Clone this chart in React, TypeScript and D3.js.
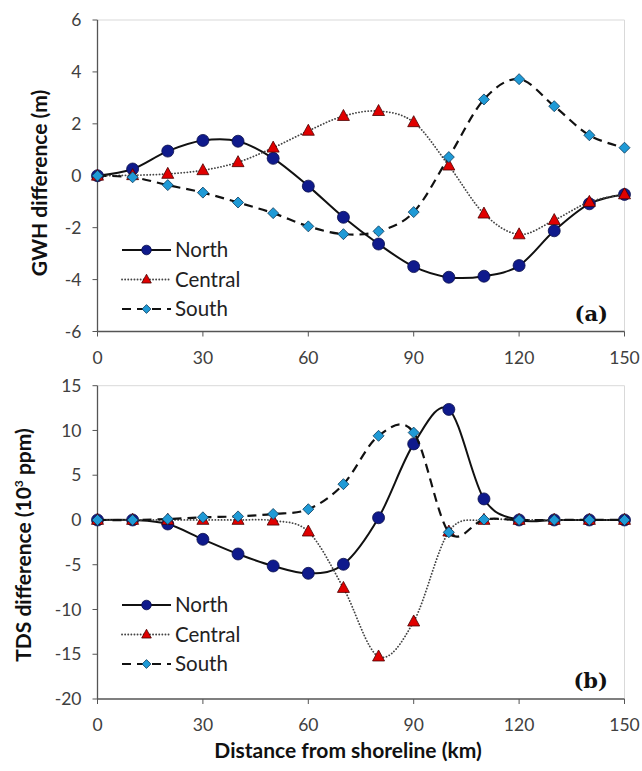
import { useMemo } from 'react';
import * as d3 from 'd3';

// distance from shoreline (km)
const distances = [0, 10, 20, 30, 40, 50, 60, 70, 80, 90, 100, 110, 120, 130, 140, 150];
const xTicks = [0, 30, 60, 90, 120, 150];

// panel (a) GWH difference (m)
const gwhNorth = [0, 0.26, 0.95, 1.36, 1.33, 0.67, -0.4, -1.6, -2.63, -3.5, -3.91, -3.87, -3.46, -2.12, -1.08, -0.72];
const gwhCentral = [0, 0.02, 0.07, 0.21, 0.52, 1.08, 1.73, 2.3, 2.49, 2.06, 0.39, -1.46, -2.26, -1.71, -1.01, -0.72];
const gwhSouth = [0, -0.06, -0.36, -0.65, -1.03, -1.44, -1.95, -2.25, -2.14, -1.4, 0.72, 2.94, 3.72, 2.68, 1.56, 1.08];
const gwhTicks = [-6, -4, -2, 0, 2, 4, 6];

// panel (b) TDS difference (10^3 ppm)
const tdsNorth = [0, 0, -0.45, -2.16, -3.8, -5.14, -5.96, -4.95, 0.25, 8.5, 12.35, 2.35, 0, 0, 0, 0];
const tdsCentral = [0, 0, 0, 0, 0, -0.08, -1.3, -7.6, -15.26, -11.35, -1.3, 0, 0, 0, 0, 0];
const tdsSouth = [0, 0, 0.1, 0.3, 0.4, 0.67, 1.2, 4.0, 9.4, 9.76, -1.37, 0.05, 0, 0, 0, 0];
const tdsTicks = [-20, -15, -10, -5, 0, 5, 10, 15];

const seriesNames = ['North', 'Central', 'South'];

const FONT = 'Lato, "Open Sans", sans-serif';

type Kind = 'North' | 'Central' | 'South';

function Marker({ kind, x, y, s = 1 }: { kind: Kind; x: number; y: number; s?: number }) {
	if (kind === 'North') {
		return <circle cx={x} cy={y} r={6 * s} fill="#0f1a8c" stroke="#0a0f4a" strokeWidth={0.8} />;
	}
	if (kind === 'Central') {
		const h = 11 * s;
		const w = 12 * s;
		return (
			<path
				d={`M${x},${y - h * 0.6}L${x + w / 2},${y + h * 0.4}L${x - w / 2},${y + h * 0.4}Z`}
				fill="#e00000"
				stroke="#4a0000"
				strokeWidth={0.8}
			/>
		);
	}
	const r = 5.5 * s;
	return (
		<path
			d={`M${x},${y - r}L${x + r},${y}L${x},${y + r}L${x - r},${y}Z`}
			fill="#1f9ad6"
			stroke="#0b3a5a"
			strokeWidth={0.8}
		/>
	);
}

const lineStyle: Record<Kind, { dash: string; width: number; color: string; cap: string }> = {
	North: { dash: '0', width: 2, color: '#111', cap: 'butt' },
	Central: { dash: '0.1,3', width: 1.8, color: '#444', cap: 'round' },
	South: { dash: '9,6', width: 2.2, color: '#111', cap: 'butt' },
};

interface PanelProps {
	top: number;
	bottom: number;
	yDomain: [number, number];
	yTicks: number[];
	series: number[][];
	yTitle: React.ReactNode;
	titleX: number;
	titleY: number;
	tag: string;
	legendY: number;
	tickLabelY: number;
}

function Panel({ top, bottom, yDomain, yTicks, series, yTitle, titleX, titleY, tag, legendY, tickLabelY }: PanelProps) {
	const left = 97.5;
	const right = 624.5;
	const x = useMemo(() => d3.scaleLinear().domain([0, 150]).range([left, right]), []);
	const y = useMemo(() => d3.scaleLinear().domain(yDomain).range([bottom, top]), [yDomain, top, bottom]);
	const line = d3
		.line<number>()
		.x((_, i) => x(distances[i]))
		.y((d) => y(d))
		.curve(d3.curveCatmullRom.alpha(0));

	return (
		<g>
			{/* plot area frame: light top/right, dark axes */}
			<line x1={left} x2={right} y1={top} y2={top} stroke="#d9d9d9" />
			<line x1={right} x2={right} y1={top} y2={bottom} stroke="#d9d9d9" />
			<line x1={left} x2={left} y1={top} y2={bottom} stroke="#555" strokeWidth={1.3} />
			<line x1={left} x2={right} y1={bottom} y2={bottom} stroke="#555" strokeWidth={1.3} />
			{yTicks.map((t) => (
				<g key={t}>
					<line x1={left - 5} x2={left} y1={y(t)} y2={y(t)} stroke="#555" />
					<text x={left - 16} y={y(t)} dy="0.35em" textAnchor="end" fontSize={17.5} fill="#404040" fontFamily={FONT}>
						{t}
					</text>
				</g>
			))}
			{xTicks.map((t) => (
				<g key={t}>
					<line x1={x(t)} x2={x(t)} y1={bottom} y2={bottom + 5} stroke="#555" />
					<text x={x(t)} y={tickLabelY} textAnchor="middle" fontSize={17.5} fill="#404040" fontFamily={FONT}>
						{t}
					</text>
				</g>
			))}
			<text
				transform={`translate(${titleX},${titleY}) rotate(-90)`}
				textAnchor="middle"
				fontSize={21}
				fontWeight="bold"
				fill="#111"
				fontFamily={FONT}
			>
				{yTitle}
			</text>
			{series.map((vals, si) => {
				const kind = seriesNames[si] as Kind;
				const st = lineStyle[kind];
				return (
					<g key={kind}>
						<path
							d={line(vals) ?? ''}
							fill="none"
							stroke={st.color}
							strokeWidth={st.width}
							strokeDasharray={st.dash}
							strokeLinecap={st.cap as 'butt' | 'round'}
						/>
						{vals.map((v, i) => (
							<Marker key={i} kind={kind} x={x(distances[i])} y={y(v)} />
						))}
					</g>
				);
			})}
			{/* legend */}
			{seriesNames.map((name, i) => {
				const kind = name as Kind;
				const st = lineStyle[kind];
				const ly = legendY + i * 29.5;
				return (
					<g key={name}>
						<line
							x1={122}
							x2={171}
							y1={ly}
							y2={ly}
							stroke={st.color}
							strokeWidth={st.width}
							strokeDasharray={st.dash}
							strokeLinecap={st.cap as 'butt' | 'round'}
						/>
						<Marker kind={kind} x={146.5} y={ly} s={0.8} />
						<text x={175} y={ly} dy="0.36em" fontSize={20.5} fill="#222" fontFamily={FONT}>
							{name}
						</text>
					</g>
				);
			})}
			<text
				x={608}
				y={bottom - 11}
				textAnchor="end"
				fontSize={21}
				fontWeight="bold"
				fill="#111"
				fontFamily='"DejaVu Serif", "Liberation Serif", serif'
			>
				{tag}
			</text>
		</g>
	);
}

export default function App() {
	return (
		<svg
			width={642}
			height={771}
			style={{ position: 'absolute', left: 0, top: 0, background: '#fff' }}
		>
			<rect width={642} height={771} fill="#fff" />
			<Panel
				top={20}
				bottom={331.5}
				yDomain={[-6, 6]}
				yTicks={gwhTicks}
				series={[gwhNorth, gwhCentral, gwhSouth]}
				yTitle="GWH difference (m)"
				titleX={47}
				titleY={183}
				tag="(a)"
				legendY={250}
				tickLabelY={364}
			/>
			<Panel
				top={385.7}
				bottom={699}
				yDomain={[-20, 15]}
				yTicks={tdsTicks}
				series={[tdsNorth, tdsCentral, tdsSouth]}
				yTitle={
					<>
						TDS difference (10
						<tspan fontSize={12} dy={-8}>
							3
						</tspan>
						<tspan dy={8}> ppm)</tspan>
					</>
				}
				titleX={31}
				titleY={545}
				tag="(b)"
				legendY={605}
				tickLabelY={731}
			/>
			<text x={348} y={758} textAnchor="middle" fontSize={21} fontWeight="bold" fill="#111" fontFamily={FONT}>
				Distance from shoreline (km)
			</text>
		</svg>
	);
}
